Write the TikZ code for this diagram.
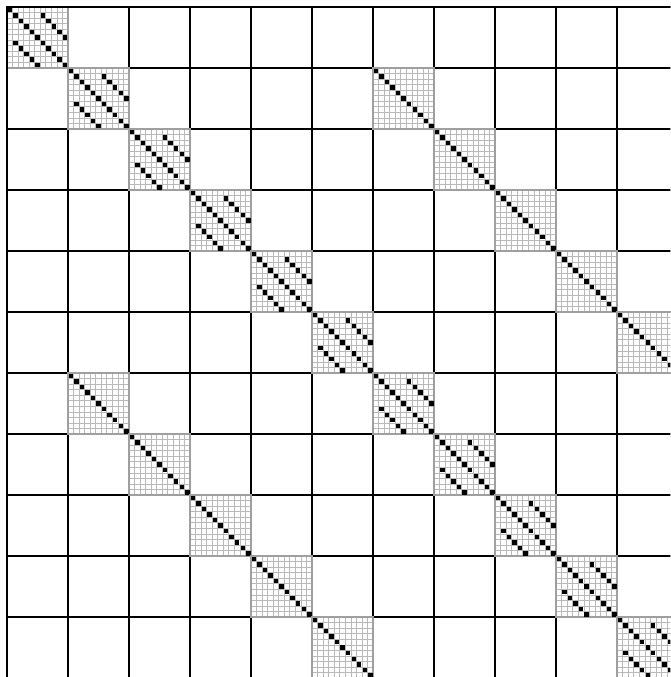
\documentclass[tikz,border=0pt]{standalone}
\usepackage{tikz}
\usetikzlibrary{calc}

% one nonzero entry of a block (row, column)
\newcommand{\nzentry}[2]{%
  \fill[entry] ({(#2+0.1)/11},{1-(#1+0.9)/11}) rectangle ({(#2+0.9)/11},{1-(#1+0.1)/11});}

% one nonzero block at (column, row); #3=1 gives the banded pattern, 0 the identity
\newcommand{\spblock}[3]{%
  \begin{scope}[shift={({#1},{10-(#2)})}]
    \fill[white] (0,0) rectangle (1,1);
    \foreach \k in {1,...,10} {
      \draw[fine] (\k/11,0) -- (\k/11,1);
      \draw[fine] (0,\k/11) -- (1,\k/11);
    }
    \draw[blockedge] (0,0) rectangle (1,1);
    \foreach \k in {0,...,10} {\nzentry{\k}{\k}}
    \ifnum#3=1
      \foreach \k in {1,...,5} {\nzentry{\k}{\k+5}\nzentry{\k+5}{\k}}
    \fi
  \end{scope}}

\begin{document}
\begin{tikzpicture}
% Define styles
\tikzstyle{coarse}=[draw=black, line width=0.95pt]
\tikzstyle{fine}=[draw=gray!55, line width=0.4pt]
\tikzstyle{blockedge}=[draw=gray!75, line width=0.8pt]
\tikzstyle{entry}=[fill=black]

\clip (-0.115,0.02) rectangle (10.87,11.115);

% Block grid
\foreach \i in {0,...,11} {
  \draw[coarse] (\i,0) -- (\i,11);
  \draw[coarse] (0,\i) -- (11,\i);
}

% Diagonal blocks
\foreach \i in {0,...,10} {\spblock{\i}{\i}{1}}

% Off-diagonal identity blocks
\foreach \i in {1,...,5} {
  \spblock{\i+5}{\i}{0}
  \spblock{\i}{\i+5}{0}
}

% Outer frame
\draw[coarse] (0,0) -- (0,11) -- (11,11);

\end{tikzpicture}
\end{document}
